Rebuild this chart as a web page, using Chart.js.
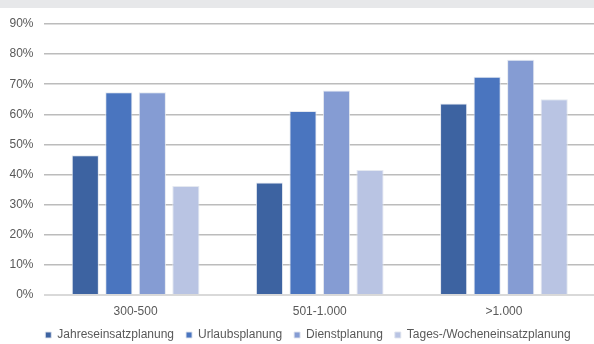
<!DOCTYPE html>
<html lang="de">
<head>
<meta charset="utf-8">
<title>Planungsarten nach Unternehmensgröße</title>
<script src="https://cdn.jsdelivr.net/npm/chart.js@4/dist/chart.umd.min.js"></script>
<style>
  html, body { margin: 0; padding: 0; background: #fff; overflow: hidden; }
  #band { position: absolute; left: 0; top: 0; width: 100%; height: 8px; background: #e7e8ea; }
  #wrap { position: absolute; left: 0; top: 0; width: 596px; height: 351px; }
</style>
</head>
<body>
<div id="wrap"><canvas id="grafico" width="596" height="351"></canvas></div>
<div id="band"></div>
<script>
// Größenklassen und Anteile je Planungsart (%)
const kategorien = ['300-500', '501-1.000', '>1.000'];
const jahreseinsatz = [46.4, 37.4, 63.6];
const urlaub = [67.3, 61.1, 72.5];
const dienst = [67.3, 67.9, 78.1];
const tagesWoche = [36.2, 41.5, 65.0];
const serien = ['Jahreseinsatzplanung', 'Urlaubsplanung', 'Dienstplanung', 'Tages-/Wocheneinsatzplanung'];
const yTicks = [0, 10, 20, 30, 40, 50, 60, 70, 80, 90];

const farben = ['#3d63a1', '#4a75bf', '#859cd3', '#b9c4e3'];
const werte = [jahreseinsatz, urlaub, dienst, tagesWoche];
const textFarbe = '#595959';
const schrift = { family: "'Liberation Sans', Arial, sans-serif", size: 12 };

const datasets = serien.map((name, i) => ({
  label: name,
  data: werte[i],
  backgroundColor: farben[i],
  borderColor: 'rgba(225,229,238,0.9)',
  borderWidth: 1,
  categoryPercentage: 0.728,
  barPercentage: 0.81
}));

// Legende etwas nach rechts rücken (zentriert ab x = 20)
const legendeVersatz = {
  id: 'legendeVersatz',
  afterLayout(chart) {
    if (chart.legend) chart.legend.left = 20;
  }
};

new Chart(document.getElementById('grafico').getContext('2d'), {
  type: 'bar',
  data: { labels: kategorien, datasets },
  plugins: [legendeVersatz],
  options: {
    responsive: false,
    animation: false,
    layout: { padding: { top: 24, left: 0, right: 0, bottom: 0 } },
    plugins: {
      tooltip: { enabled: false },
      legend: {
        position: 'bottom',
        labels: {
          color: textFarbe,
          font: schrift,
          boxWidth: 6,
          boxHeight: 6,
          padding: 12
        }
      }
    },
    scales: {
      x: {
        grid: { display: false, drawTicks: false },
        border: { display: false },
        ticks: { color: textFarbe, font: schrift, padding: 9 },
        afterFit: scale => { scale.height = 22; }
      },
      y: {
        min: 0,
        max: 90,
        afterBuildTicks: scale => { scale.ticks = yTicks.map(v => ({ value: v })); },
        grid: {
          drawTicks: false,
          color: c => (c.tick && c.tick.value === 0) ? '#d9d9d9' : '#bcbcbc',
          lineWidth: c => (c.tick && c.tick.value === 0) ? 2 : 1.5
        },
        border: { display: false },
        ticks: {
          color: textFarbe,
          font: schrift,
          padding: 10,
          callback: v => v + '%'
        },
        afterFit: scale => { scale.width = 43.5; }
      }
    }
  }
});
</script>
</body>
</html>
